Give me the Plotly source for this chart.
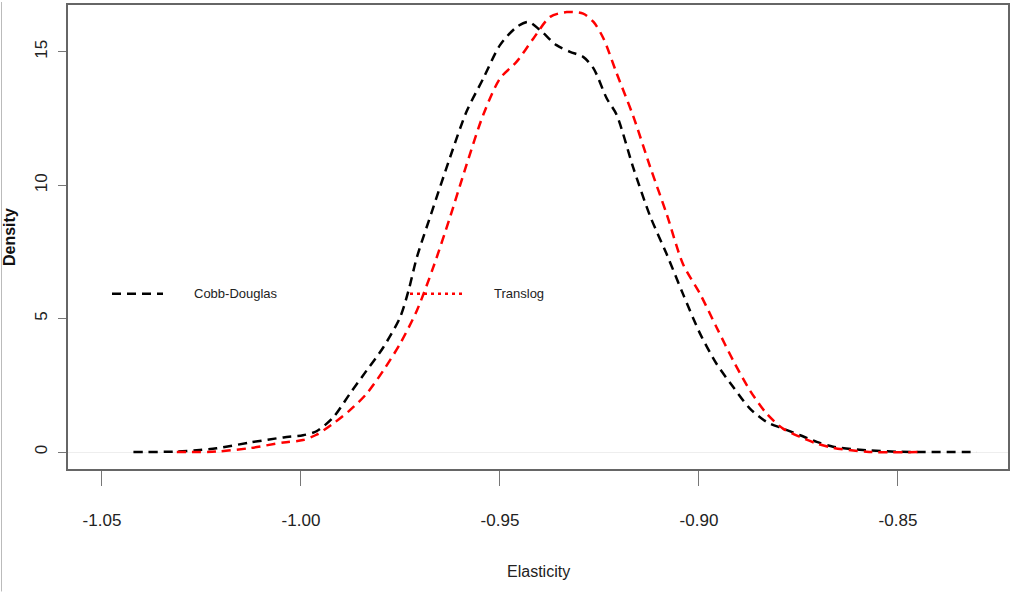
import plotly.graph_objects as go

# ---- data (kernel density estimates) ----
cd_x = [-1.0421, -1.0312, -1.0254, -1.0212, -1.0128, -1.0044, -0.9995, -0.9961,
        -0.9919, -0.9877, -0.9835, -0.9793, -0.9751, -0.9730, -0.9709, -0.9668,
        -0.9626, -0.9584, -0.9542, -0.9500, -0.9458, -0.9429, -0.9399, -0.9358,
        -0.9324, -0.9291, -0.9265, -0.9232, -0.9207, -0.9165, -0.9123, -0.9081,
        -0.9040, -0.8997, -0.8956, -0.8914, -0.8872, -0.8830, -0.8789, -0.8746,
        -0.8704, -0.8663, -0.8579, -0.8495, -0.8302]
cd_y = [0.0, 0.02, 0.08, 0.14, 0.36, 0.55, 0.63, 0.78,
        1.3, 2.19, 3.06, 3.93, 5.05, 6.04, 7.29, 9.15,
        11.02, 12.76, 14.0, 15.25, 15.93, 16.12, 15.81, 15.25,
        15.0, 14.81, 14.38, 13.26, 12.64, 10.65, 8.85, 7.41,
        5.92, 4.43, 3.31, 2.44, 1.63, 1.13, 0.88, 0.63,
        0.38, 0.20, 0.07, 0.01, 0.0]

tl_x = [-1.0312, -1.0212, -1.0128, -1.0044, -0.9995, -0.9961, -0.9919, -0.9877,
        -0.9835, -0.9793, -0.9751, -0.9709, -0.9668, -0.9626, -0.9584, -0.9542,
        -0.9500, -0.9458, -0.9416, -0.9374, -0.9332, -0.9291, -0.9265, -0.9240,
        -0.9207, -0.9165, -0.9123, -0.9081, -0.9040, -0.8997, -0.8956, -0.8914,
        -0.8872, -0.8830, -0.8789, -0.8746, -0.8704, -0.8663, -0.8579, -0.8445]
tl_y = [0.0, 0.02, 0.15, 0.36, 0.45, 0.65, 1.07, 1.57,
        2.19, 3.06, 4.06, 5.30, 6.91, 8.78, 10.77, 12.64,
        14.0, 14.63, 15.5, 16.31, 16.49, 16.43, 16.12, 15.5,
        14.2, 12.58, 10.7, 8.91, 7.04, 5.92, 4.68, 3.43,
        2.31, 1.44, 0.88, 0.57, 0.32, 0.16, 0.01, 0.0]

x_ticks = [-1.05, -1.00, -0.95, -0.90, -0.85]
x_tick_labels = ["-1.05", "-1.00", "-0.95", "-0.90", "-0.85"]
y_ticks = [0, 5, 10, 15]
y_tick_labels = ["0", "5", "10", "15"]
series_names = ["Cobb-Douglas", "Translog"]

FONT = "Liberation Sans Narrow, Arial Narrow, Liberation Sans, Arial, sans-serif"

fig = go.Figure()
fig.add_trace(go.Scatter(x=cd_x, y=cd_y, mode="lines", name=series_names[0],
                         line=dict(color="#000000", width=2.5, dash="9px,6px",
                                   shape="spline", smoothing=0.8)))
fig.add_trace(go.Scatter(x=tl_x, y=tl_y, mode="lines", name=series_names[1],
                         line=dict(color="#ff0000", width=2.5, dash="9px,6px",
                                   shape="spline", smoothing=0.8)))

W, H = 1013, 592
ml, mr, mt, mb = 68, 5, 3, 123
pw = W - ml - mr
ph = H - mt - mb


def px(xp):
    return (xp - ml) / pw


def py(yp):
    return (H - mb - yp) / ph


shapes = [
    # legend samples
    dict(type="line", xref="paper", yref="paper", x0=px(112), x1=px(163), y0=py(293), y1=py(293),
         line=dict(color="#000000", width=2.5, dash="9px,6px")),
    dict(type="line", xref="paper", yref="paper", x0=px(410), x1=px(464), y0=py(293), y1=py(293),
         line=dict(color="#ff0000", width=2.5, dash="3px,4px")),
    # faint outer frame line at the page's left edge
    dict(type="line", xref="paper", yref="paper", x0=px(1.5), x1=px(1.5), y0=py(0), y1=py(592),
         line=dict(color="#bbbbbb", width=1)),
]

annotations = [
    dict(text=series_names[0], xref="paper", yref="paper", x=px(192), y=py(293),
         xanchor="left", yanchor="middle", showarrow=False,
         font=dict(family=FONT, size=13, color="#222222")),
    dict(text=series_names[1], xref="paper", yref="paper", x=px(492), y=py(293),
         xanchor="left", yanchor="middle", showarrow=False,
         font=dict(family=FONT, size=13, color="#222222")),
    dict(text="<b>Density</b>", xref="paper", yref="paper", x=px(9), y=py(236),
         xanchor="center", yanchor="middle", textangle=-90, showarrow=False,
         font=dict(family=FONT, size=16, color="#111111")),
    dict(text="Elasticity", xref="paper", yref="paper", x=px(538), y=py(572),
         xanchor="center", yanchor="middle", showarrow=False,
         font=dict(family=FONT, size=16, color="#222222")),
]

fig.update_layout(
    width=W, height=H,
    margin=dict(l=ml, r=mr, t=mt, b=mb, pad=0),
    paper_bgcolor="#ffffff", plot_bgcolor="#ffffff",
    showlegend=False,
    shapes=shapes,
    annotations=annotations,
    xaxis=dict(range=[-1.05854, -0.82236], tickvals=x_ticks, ticktext=x_tick_labels,
               showgrid=False, zeroline=False, ticks="outside", ticklen=15,
               tickcolor="#777777", tickwidth=1, showline=True, mirror=True,
               linecolor="#666666", linewidth=2, ticklabelstandoff=20,
               tickfont=dict(family=FONT, size=17, color="#222222")),
    yaxis=dict(range=[-0.634, 16.754], tickvals=y_ticks, ticktext=y_tick_labels,
               showgrid=False, zeroline=True, zerolinecolor="#eeeeee", zerolinewidth=1,
               ticks="outside", ticklen=8, tickcolor="#777777", tickwidth=1,
               showline=True, mirror=True, linecolor="#666666", linewidth=2,
               tickangle=-90, ticklabelstandoff=4,
               tickfont=dict(family=FONT, size=17, color="#222222")),
)

fig.write_html("out.html")
